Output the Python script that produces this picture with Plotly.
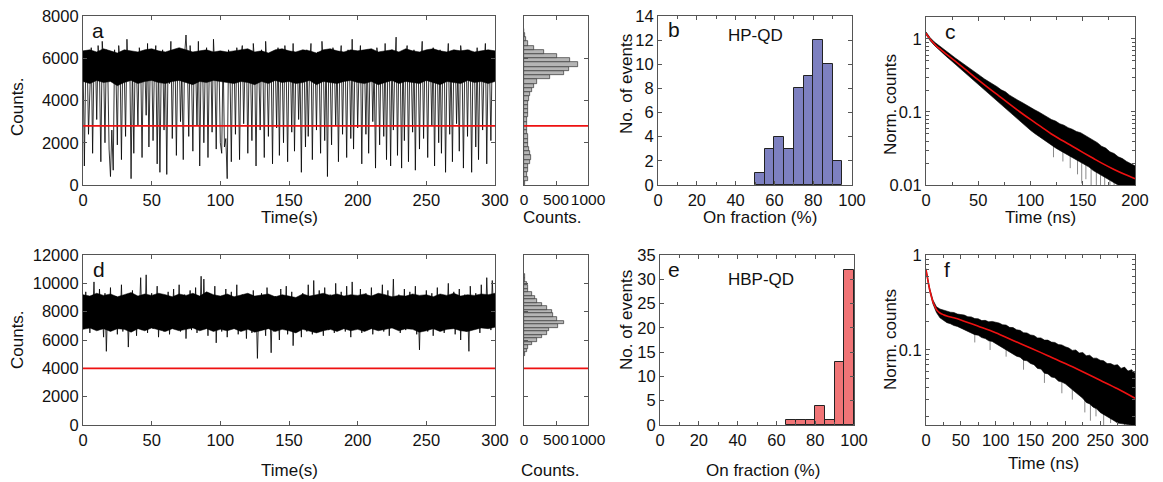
import plotly.graph_objects as go

#### Data ####
# a: blinking trace of HP-QD (counts per bin vs time, s)
trace_a = [
    6100, 900, 5800, 6300, 2400, 5200, 6500, 1500, 5900, 6200,
    3100, 6600, 5400, 1100, 6800, 5700, 2000, 6400, 5600, 1700,
    400, 2600, 700, 6400, 5300, 1900, 6600, 5800, 1200, 6200,
    5500, 2300, 6900, 5100, 6300, 300, 5700, 1500, 6100, 5400,
    2800, 6500, 5900, 1300, 6200, 5600, 3300, 6700, 1800, 5800,
    6300, 2100, 5500, 6600, 1000, 6000, 600, 5700, 6400, 2600,
    5900, 500, 6300, 4800, 6800, 2200, 5600, 6100, 1400, 5900,
    6400, 3000, 5500, 1200, 6200, 7100, 5800, 2300, 6600, 5400,
    1600, 6300, 5700, 2800, 6800, 900, 5900, 6200, 2000, 5600,
    6500, 1300, 5800, 6300, 2500, 6900, 5400, 1700, 6100, 5800,
    2000, 1500, 6300, 1800, 2200, 300, 6400, 5600, 1100, 6200,
    5900, 2400, 6500, 5500, 1200, 6100, 6600, 2900, 5700, 6300,
    1500, 6000, 5400, 2100, 6700, 5800, 900, 6200, 5600, 2600,
    6400, 5700, 1300, 6800, 5500, 2300, 6100, 5900, 1000, 6300,
    5600, 2700, 6500, 1400, 6000, 5800, 2000, 6600, 5300, 1100,
    6200, 5900, 2500, 6700, 1600, 5700, 6300, 3100, 5500, 600,
    6100, 5800, 1800, 6400, 2300, 5600, 6700, 1200, 6000, 5900,
    2600, 6300, 5500, 1500, 6800, 5700, 2100, 6200, 400, 6000,
    5400, 1900, 6500, 5800, 2800, 6100, 1100, 5700, 6600, 2400,
    6000, 5600, 1300, 6400, 5900, 2200, 6900, 1700, 5800, 6300,
    2700, 5500, 6600, 1000, 6100, 5700, 2400, 6400, 1500, 5800,
    6200, 3000, 5600, 800, 6500, 5900, 1900, 6300, 5400, 2300,
    6700, 1200, 5800, 6100, 900, 6400, 2600, 5500, 7000, 1400,
    6000, 5700, 800, 6300, 2100, 5800, 6600, 1100, 6100, 5600,
    2500, 6400, 700, 5900, 6200, 1700, 5700, 6800, 2200, 6000,
    5500, 1300, 6300, 5800, 2800, 6500, 900, 6100, 5700, 2000,
    6400, 1500, 5900, 6200, 600, 5600, 6700, 2400, 6000, 1100,
    5800, 6300, 2900, 5500, 1600, 6600, 6000, 800, 5700, 6200,
    2300, 6400, 5600, 600, 6100, 5900, 1800, 6500, 1200, 5800,
    6200, 2600, 5500, 6700, 1000, 6000, 5700, 2100, 6300, 5900,
]

# d: trace of HBP-QD
trace_d = [
    8200, 6900, 9400, 7300, 8600, 6500, 9000, 7700, 10100, 7000,
    8800, 6700, 9600, 7400, 8100, 6200, 9300, 5200, 8500, 7100,
    9700, 6800, 8300, 7600, 9100, 6400, 8700, 7200, 9900, 6600,
    8000, 7500, 9200, 5500, 8400, 6900, 9500, 7300, 8600, 6300,
    9000, 7800, 10400, 6700, 8200, 7100, 10600, 6500, 8800, 7400,
    9300, 6800, 8100, 7600, 9800, 6200, 8500, 7000, 9100, 6600,
    8700, 7300, 9400, 6400, 8000, 7700, 9600, 6900, 8300, 7200,
    9900, 6600, 8600, 7400, 9200, 6100, 8400, 7800, 9500, 6700,
    8900, 7100, 9700, 6500, 8200, 7500, 10500, 6800, 10300, 7300,
    8600, 6300, 9300, 7600, 8000, 6700, 9800, 5800, 8700, 7000,
    9100, 6600, 8400, 7300, 9600, 6200, 8100, 7700, 9400, 6900,
    8500, 7200, 9900, 6400, 8300, 7500, 9200, 6800, 8800, 6100,
    9000, 7400, 8200, 6500, 9500, 7000, 8600, 4700, 8300, 6800,
    9300, 7100, 8000, 6300, 9700, 7600, 8500, 5100, 8900, 6600,
    9100, 7300, 8200, 6000, 9600, 6900, 8400, 7500, 9800, 6400,
    8700, 7200, 9400, 5600, 8100, 6700, 9000, 7400, 8500, 6200,
    9300, 7000, 8300, 6600, 9900, 7300, 8800, 6400, 10200, 7100,
    8600, 6800, 9500, 7500, 8200, 6300, 9700, 7200, 8900, 6700,
    9200, 7600, 8400, 6500, 10000, 7000, 8700, 6900, 9400, 7300,
    8300, 6600, 9800, 7100, 8600, 6200, 10100, 7400, 9000, 6800,
    8500, 7200, 9600, 6500, 8800, 7500, 9300, 6700, 8100, 7000,
    9700, 6400, 8400, 7300, 9100, 6900, 8600, 7600, 9900, 6600,
    8300, 7100, 9500, 6300, 8700, 7400, 10300, 6800, 8500, 7000,
    9200, 6500, 8900, 7200, 9600, 6700, 8200, 7500, 9400, 6900,
    8600, 7100, 9800, 6400, 8300, 5300, 9000, 6800, 8500, 7300,
    9500, 6600, 8100, 7000, 9300, 6300, 8800, 7400, 9700, 6700,
    8400, 7200, 9100, 6500, 8700, 7600, 10000, 6900, 8200, 7100,
    9400, 6400, 8600, 7300, 9600, 6000, 8900, 7000, 9200, 6600,
    8300, 5200, 9800, 7400, 8500, 6800, 9300, 7100, 8700, 6500,
    9900, 7200, 8400, 6900, 10400, 7500, 9100, 6700, 10200, 8000,
]
trace_time = list(range(len(trace_a)))

# dense core of each trace (read every 5 s)
band_t = list(range(0, 305, 5))
band_a_hi = [6350, 6400, 6300, 6450, 6350, 6250, 6400, 6350, 6300, 6400,
             6450, 6350, 6300, 6400, 6500, 6400, 6300, 6350, 6400, 6300,
             6350, 6300, 6350, 6400, 6450, 6300, 6350, 6250, 6400, 6450,
             6350, 6300, 6400, 6350, 6250, 6400, 6450, 6350, 6300, 6400,
             6350, 6400, 6450, 6300, 6350, 6400, 6300, 6450, 6350, 6300,
             6400, 6450, 6350, 6300, 6400, 6350, 6400, 6300, 6350, 6400,
             6350]
band_a_lo = [4900, 4800, 4950, 4850, 4900, 4700, 4850, 4950, 4800, 4900,
             4950, 4850, 4800, 4900, 4950, 4850, 4750, 4900, 4850, 4950,
             4900, 4850, 4800, 4900, 4850, 4750, 4900, 4800, 4950, 4850,
             4900, 4800, 4850, 4950, 4750, 4900, 4850, 4800, 4900, 4950,
             4850, 4800, 4900, 4750, 4850, 4950, 4800, 4900, 4850, 4800,
             4950, 4850, 4750, 4900, 4850, 4800, 4950, 4850, 4900, 4800,
             4900]
band_d_hi = [9200, 9100, 9300, 9150, 9250, 9050, 9200, 9350, 9100, 9250,
             9150, 9300, 9200, 9050, 9250, 9150, 9300, 9100, 9400, 9200,
             9100, 9250, 9050, 9200, 9300, 9100, 9150, 9250, 9050, 9200,
             9100, 9000, 9250, 9100, 9200, 9300, 9150, 9250, 9100, 9200,
             9150, 9250, 9100, 9300, 9200, 9050, 9150, 9100, 9250, 9150,
             9200, 9050, 9250, 9150, 9300, 9100, 9200, 9150, 9250, 9200,
             9300]
band_d_lo = [6750, 6850, 6650, 6800, 6600, 6800, 6750, 6550, 6800, 6650,
             6850, 6750, 6600, 6800, 6650, 6750, 6850, 6650, 6800, 6600,
             6750, 6650, 6800, 6600, 6750, 6550, 6650, 6800, 6600, 6750,
             6650, 6500, 6750, 6600, 6500, 6650, 6750, 6600, 6800, 6650,
             6750, 6600, 6800, 6650, 6750, 6850, 6650, 6800, 6750, 6550,
             6650, 6800, 6600, 6750, 6800, 6650, 6600, 6750, 6850, 6800,
             6900]

threshold_a = 2800
threshold_d = 4000

# side histograms of the traces (bin centre in counts, number of bins)
hist_a_level = [100, 300, 500, 700, 900, 1100, 1300, 1500, 1700, 1900,
                2100, 2300, 2500, 2700, 2900, 3100, 3300, 3500, 3700, 3900,
                4100, 4300, 4500, 4700, 4900, 5100, 5300, 5500, 5700, 5900,
                6100, 6300, 6500, 6700, 6900, 7100, 7300]
hist_a_count = [20, 60, 40, 55, 70, 90, 110, 95, 80, 65,
                60, 55, 50, 45, 50, 50, 55, 60, 65, 70,
                80, 95, 120, 155, 205, 410, 630, 710, 845, 715,
                520, 310, 150, 60, 30, 10, 5]

hist_d_level = [5000, 5250, 5500, 5750, 6000, 6250, 6500, 6750, 7000, 7250,
                7500, 7750, 8000, 8250, 8500, 8750, 9000, 9250, 9500, 9750,
                10000, 10250, 10500]
hist_d_count = [15, 42, 68, 120, 198, 276, 354, 395, 536, 624,
                510, 458, 432, 354, 276, 198, 170, 120, 68, 55,
                42, 20, 10]

# b / e: on-fraction histograms
hp_bins = [52.5, 57.5, 62.5, 67.5, 72.5, 77.5, 82.5, 87.5, 92.5]
hp_events = [1, 3, 4, 3, 8, 9, 12, 10, 2]
hbp_bins = [67.5, 72.5, 77.5, 82.5, 87.5, 92.5, 97.5]
hbp_events = [1, 1, 1, 4, 1, 13, 32]

# c: PL decay HP-QD (ns), fit and data envelope
fit_c_t = [0, 2, 5, 10, 15, 20, 30, 40, 50, 60, 70, 80, 90, 100, 110, 120,
           130, 140, 150, 160, 170, 180, 190, 200]
fit_c = [1.20, 1.08, 0.95, 0.80, 0.70, 0.61, 0.47, 0.36, 0.275, 0.212, 0.165,
         0.128, 0.100, 0.079, 0.063, 0.050, 0.041, 0.034, 0.028, 0.0232,
         0.0193, 0.0163, 0.0140, 0.0122]
data_c_t = list(range(0, 202, 4))
data_c_hi = [1.25, 1.04, 0.91, 0.82, 0.73, 0.67, 0.60, 0.55, 0.50, 0.457,
             0.41, 0.38, 0.34, 0.312, 0.283, 0.262, 0.238, 0.222, 0.201, 0.189,
             0.170, 0.159, 0.145, 0.135, 0.124, 0.116, 0.107, 0.100, 0.092, 0.086,
             0.079, 0.075, 0.069, 0.066, 0.061, 0.058, 0.054, 0.052, 0.048, 0.045,
             0.041, 0.038, 0.034, 0.032, 0.0285, 0.027, 0.0243, 0.023, 0.021, 0.0198,
             0.0183]
data_c_lo = [1.15, 0.945, 0.817, 0.718, 0.639, 0.567, 0.506, 0.450, 0.405, 0.358,
             0.320, 0.286, 0.252, 0.225, 0.201, 0.178, 0.158, 0.141, 0.126, 0.111,
             0.0986, 0.0882, 0.0782, 0.0694, 0.0626, 0.0561, 0.0508, 0.0462, 0.042, 0.0385,
             0.035, 0.0322, 0.0298, 0.0277, 0.0256, 0.0238, 0.0221, 0.0207, 0.0191, 0.0176,
             0.0158, 0.0146, 0.0134, 0.0124, 0.0116, 0.0106, 0.0099, 0.0091, 0.0084, 0.0079,
             0.0073]
# grey low outliers of the noisy tail: time, top and bottom of each spike
spike_c_t = [122, 131, 138, 145, 149, 153, 158, 163, 167, 171, 176, 180, 185, 190, 195]
spike_c_top = [0.048, 0.040, 0.034, 0.030, 0.028, 0.027, 0.025, 0.022, 0.020, 0.019, 0.018, 0.016, 0.015, 0.014, 0.013]
spike_c_bot = [0.024, 0.021, 0.017, 0.014, 0.0105, 0.012, 0.0095, 0.0085, 0.010, 0.008, 0.0085, 0.0075, 0.008, 0.0075, 0.0078]

# f: PL decay HBP-QD
fit_f_t = [0, 2, 4, 6, 8, 10, 13, 16, 20, 25, 30, 40, 50, 75, 100, 125, 150,
           175, 200, 225, 250, 275, 300]
fit_f = [0.70, 0.58, 0.48, 0.41, 0.36, 0.32, 0.285, 0.26, 0.245, 0.235, 0.228,
         0.218, 0.207, 0.178, 0.152, 0.126, 0.105, 0.087, 0.072, 0.059, 0.048,
         0.039, 0.031]
data_f_t = list(range(0, 305, 5))
data_f_hi = [0.72, 0.455, 0.335, 0.285, 0.27, 0.262, 0.258, 0.250, 0.248, 0.239,
             0.236, 0.233, 0.224, 0.223, 0.214, 0.213, 0.204, 0.205, 0.198, 0.200,
             0.196, 0.192, 0.184, 0.183, 0.173, 0.172, 0.163, 0.161, 0.152, 0.151,
             0.144, 0.142, 0.134, 0.134, 0.127, 0.127, 0.121, 0.120, 0.114, 0.113,
             0.108, 0.105, 0.099, 0.100, 0.093, 0.094, 0.087, 0.088, 0.082, 0.082,
             0.078, 0.077, 0.072, 0.072, 0.069, 0.070, 0.064, 0.066, 0.060, 0.062,
             0.057]
data_f_lo = [0.68, 0.425, 0.305, 0.248, 0.218, 0.204, 0.194, 0.189, 0.181, 0.177,
             0.170, 0.165, 0.157, 0.153, 0.145, 0.143, 0.135, 0.132, 0.125, 0.123,
             0.117, 0.112, 0.105, 0.102, 0.095, 0.092, 0.086, 0.084, 0.078, 0.077,
             0.072, 0.070, 0.064, 0.063, 0.057, 0.056, 0.052, 0.051, 0.047, 0.046,
             0.044, 0.041, 0.038, 0.036, 0.033, 0.031, 0.028, 0.027, 0.025, 0.024,
             0.022, 0.021, 0.020, 0.019, 0.018, 0.017, 0.0168, 0.0165, 0.0163, 0.0162,
             0.016]
spike_f_t = [70, 92, 115, 140, 170, 195, 210, 228, 236, 244, 255, 265, 275, 285, 292]
spike_f_top = [0.17, 0.15, 0.13, 0.11, 0.09, 0.075, 0.066, 0.058, 0.054, 0.051, 0.046, 0.042, 0.039, 0.036, 0.034]
spike_f_bot = [0.12, 0.10, 0.085, 0.062, 0.045, 0.035, 0.030, 0.022, 0.018, 0.020, 0.016, 0.017, 0.016, 0.016, 0.016]

#### Layout helpers ####
W, H = 1163, 482
FONT = "Liberation Sans, Arial, sans-serif"
AXC = "#555555"


def xdom(x0, x1):
    return [x0 / W, x1 / W]


def ydom(y0, y1):
    return [1 - y1 / H, 1 - y0 / H]


def ax(dom, **kw):
    d = dict(domain=dom, showline=True, linecolor=AXC, linewidth=1.2, mirror="ticks",
             ticks="inside", ticklen=4, tickcolor=AXC, showgrid=False, zeroline=False,
             automargin=False, tickangle=0,
             tickfont=dict(size=16.5, color="#111", family=FONT))
    d.update(kw)
    return d


def logminor(lo_exp, hi_exp):
    vals = []
    for e in range(lo_exp, hi_exp + 1):
        for m in range(2, 10):
            vals.append(m * 10.0 ** e)
    return dict(ticks="inside", ticklen=3, tickcolor=AXC, tickvals=vals)


def segments(ts, tops, bots):
    # vertical spike segments split by None so they are not joined
    xs, ys = [], []
    for t, a, b in zip(ts, tops, bots):
        xs += [t, t, None]
        ys += [a, b, None]
    return xs, ys


fig = go.Figure()

# a
fig.add_trace(go.Scatter(x=band_t, y=band_a_hi, mode="lines", line=dict(color="black", width=0.5),
                         xaxis="x", yaxis="y"))
fig.add_trace(go.Scatter(x=band_t, y=band_a_lo, mode="lines", fill="tonexty", fillcolor="black",
                         line=dict(color="black", width=0.5), xaxis="x", yaxis="y"))
fig.add_trace(go.Scatter(x=trace_time, y=trace_a, mode="lines",
                         line=dict(color="black", width=0.8), xaxis="x", yaxis="y"))
fig.add_trace(go.Bar(y=hist_a_level, x=hist_a_count, orientation="h", width=200,
                     marker=dict(color="#b5b5b5", line=dict(color="#333", width=0.7)),
                     xaxis="x2", yaxis="y2"))
# b
fig.add_trace(go.Bar(x=hp_bins, y=hp_events, width=5,
                     marker=dict(color="#7d80c0", line=dict(color="#222", width=1)),
                     xaxis="x3", yaxis="y3"))
# c
sx, sy = segments(spike_c_t, spike_c_top, spike_c_bot)
fig.add_trace(go.Scatter(x=sx, y=sy, mode="lines", connectgaps=False,
                         line=dict(color="#8a8a8a", width=1), xaxis="x4", yaxis="y4"))
fig.add_trace(go.Scatter(x=data_c_t, y=data_c_hi, mode="lines",
                         line=dict(color="black", width=0.6), xaxis="x4", yaxis="y4"))
fig.add_trace(go.Scatter(x=data_c_t, y=data_c_lo, mode="lines", fill="tonexty",
                         fillcolor="black", line=dict(color="black", width=0.6),
                         xaxis="x4", yaxis="y4"))
fig.add_trace(go.Scatter(x=fit_c_t, y=fit_c, mode="lines", line_shape="spline",
                         line=dict(color="#ee1111", width=1.6), xaxis="x4", yaxis="y4"))
# d
fig.add_trace(go.Scatter(x=band_t, y=band_d_hi, mode="lines", line=dict(color="black", width=0.5),
                         xaxis="x5", yaxis="y5"))
fig.add_trace(go.Scatter(x=band_t, y=band_d_lo, mode="lines", fill="tonexty", fillcolor="black",
                         line=dict(color="black", width=0.5), xaxis="x5", yaxis="y5"))
fig.add_trace(go.Scatter(x=trace_time, y=trace_d, mode="lines",
                         line=dict(color="black", width=0.8), xaxis="x5", yaxis="y5"))
fig.add_trace(go.Bar(y=hist_d_level, x=hist_d_count, orientation="h", width=250,
                     marker=dict(color="#b5b5b5", line=dict(color="#333", width=0.7)),
                     xaxis="x6", yaxis="y6"))
# e
fig.add_trace(go.Bar(x=hbp_bins, y=hbp_events, width=5,
                     marker=dict(color="#f07476", line=dict(color="#222", width=1)),
                     xaxis="x7", yaxis="y7"))
# f
sx, sy = segments(spike_f_t, spike_f_top, spike_f_bot)
fig.add_trace(go.Scatter(x=sx, y=sy, mode="lines", connectgaps=False,
                         line=dict(color="#8a8a8a", width=1), xaxis="x8", yaxis="y8"))
fig.add_trace(go.Scatter(x=data_f_t, y=data_f_hi, mode="lines",
                         line=dict(color="black", width=0.6), xaxis="x8", yaxis="y8"))
fig.add_trace(go.Scatter(x=data_f_t, y=data_f_lo, mode="lines", fill="tonexty",
                         fillcolor="black", line=dict(color="black", width=0.6),
                         xaxis="x8", yaxis="y8"))
fig.add_trace(go.Scatter(x=fit_f_t, y=fit_f, mode="lines", line_shape="spline",
                         line=dict(color="#ee1111", width=1.6), xaxis="x8", yaxis="y8"))

# threshold lines
shapes = []
for xr, yr, val in [("x", "y", threshold_a), ("x2", "y2", threshold_a),
                    ("x5", "y5", threshold_d), ("x6", "y6", threshold_d)]:
    shapes.append(dict(type="line", xref=xr + " domain", yref=yr, x0=0, x1=1,
                       y0=val, y1=val, line=dict(color="#ee1111", width=1.6)))

row1 = ydom(16, 185)
row2 = ydom(255, 425)
side_font = dict(size=15.5, color="#111", family=FONT)

layout = dict(
    width=W, height=H, margin=dict(l=0, r=0, t=0, b=0),
    paper_bgcolor="white", plot_bgcolor="white", showlegend=False,
    font=dict(family=FONT, color="#111"), bargap=0, shapes=shapes,
    xaxis=ax(xdom(83, 495), range=[0, 300], dtick=50, anchor="y"),
    yaxis=ax(row1, range=[0, 8000], dtick=2000, anchor="x"),
    xaxis2=ax(xdom(524, 588), range=[0, 1000], tickvals=[0, 500, 1000], anchor="y2",
              tickfont=side_font),
    yaxis2=ax(row1, range=[0, 8000], dtick=2000, showticklabels=False, anchor="x2"),
    xaxis3=ax(xdom(658, 852), range=[0, 100], dtick=20, anchor="y3",
              minor=dict(ticks="inside", ticklen=3, dtick=10, tickcolor=AXC)),
    yaxis3=ax(row1, range=[0, 14], dtick=2, anchor="x3"),
    xaxis4=ax(xdom(926, 1135), range=[0, 200], dtick=50, anchor="y4",
              minor=dict(ticks="inside", ticklen=3, dtick=25, tickcolor=AXC)),
    yaxis4=ax(ydom(16.7, 185), type="log", range=[-2, 0.305], tickvals=[0.01, 0.1, 1],
              ticktext=["0.01", "0.1", "1"], anchor="x4", minor=logminor(-2, 0)),
    xaxis5=ax(xdom(83, 495), range=[0, 300], dtick=50, anchor="y5"),
    yaxis5=ax(row2, range=[0, 12000], dtick=2000, tickformat="d", anchor="x5"),
    xaxis6=ax(xdom(524, 588), range=[0, 1000], tickvals=[0, 500, 1000], anchor="y6",
              tickfont=side_font),
    yaxis6=ax(row2, range=[0, 12000], dtick=2000, showticklabels=False, anchor="x6"),
    xaxis7=ax(xdom(660, 854), range=[0, 100], dtick=20, anchor="y7",
              minor=dict(ticks="inside", ticklen=3, dtick=10, tickcolor=AXC)),
    yaxis7=ax(row2, range=[0, 35], dtick=5, anchor="x7"),
    xaxis8=ax(xdom(926, 1135), range=[0, 300], dtick=50, anchor="y8",
              minor=dict(ticks="inside", ticklen=3, dtick=25, tickcolor=AXC)),
    yaxis8=ax(row2, type="log", range=[-1.79, 0], tickvals=[0.1, 1],
              ticktext=["0.1", "1"], anchor="x8", minor=logminor(-2, -1)),
)
fig.update_layout(**layout)

# axis titles and panel labels, placed in pixels
labels = [
    ("Counts.", 17, 107, -90, 17), ("Time(s)", 289, 218, 0, 17), ("Counts.", 552, 218, 0, 17),
    ("No. of events", 626, 84, -90, 17), ("On fraction (%)", 760, 218, 0, 17),
    ("Norm. counts", 890, 105, -90, 17), ("Time (ns)", 1040, 218, 0, 17),
    ("Counts.", 17, 340, -90, 17), ("Time(s)", 289, 470, 0, 17), ("Counts.", 550, 470, 0, 17),
    ("No. of events", 626, 320, -90, 17), ("On fraction (%)", 763, 470, 0, 17),
    ("Norm. counts", 890, 340, -90, 17), ("Time (ns)", 1043, 463, 0, 17),
    ("a", 98, 31, 0, 21), ("b", 674, 29, 0, 21), ("HP-QD", 755, 36, 0, 17),
    ("c", 950, 32, 0, 21), ("d", 99, 269, 0, 21), ("e", 674, 269, 0, 21),
    ("HBP-QD", 761, 279, 0, 17), ("f", 947, 269, 0, 21),
]
for txt, px, py, ang, size in labels:
    fig.add_annotation(text=txt, x=px / W, y=1 - py / H, xref="paper", yref="paper",
                       showarrow=False, textangle=ang, xanchor="center", yanchor="middle",
                       font=dict(size=size, family=FONT, color="#111"))

# the page body has a default 8px margin; drop it so the figure sits at the window corner
fig.write_html("out.html", config={"displayModeBar": False},
               post_script="document.body.style.margin='0px';")
